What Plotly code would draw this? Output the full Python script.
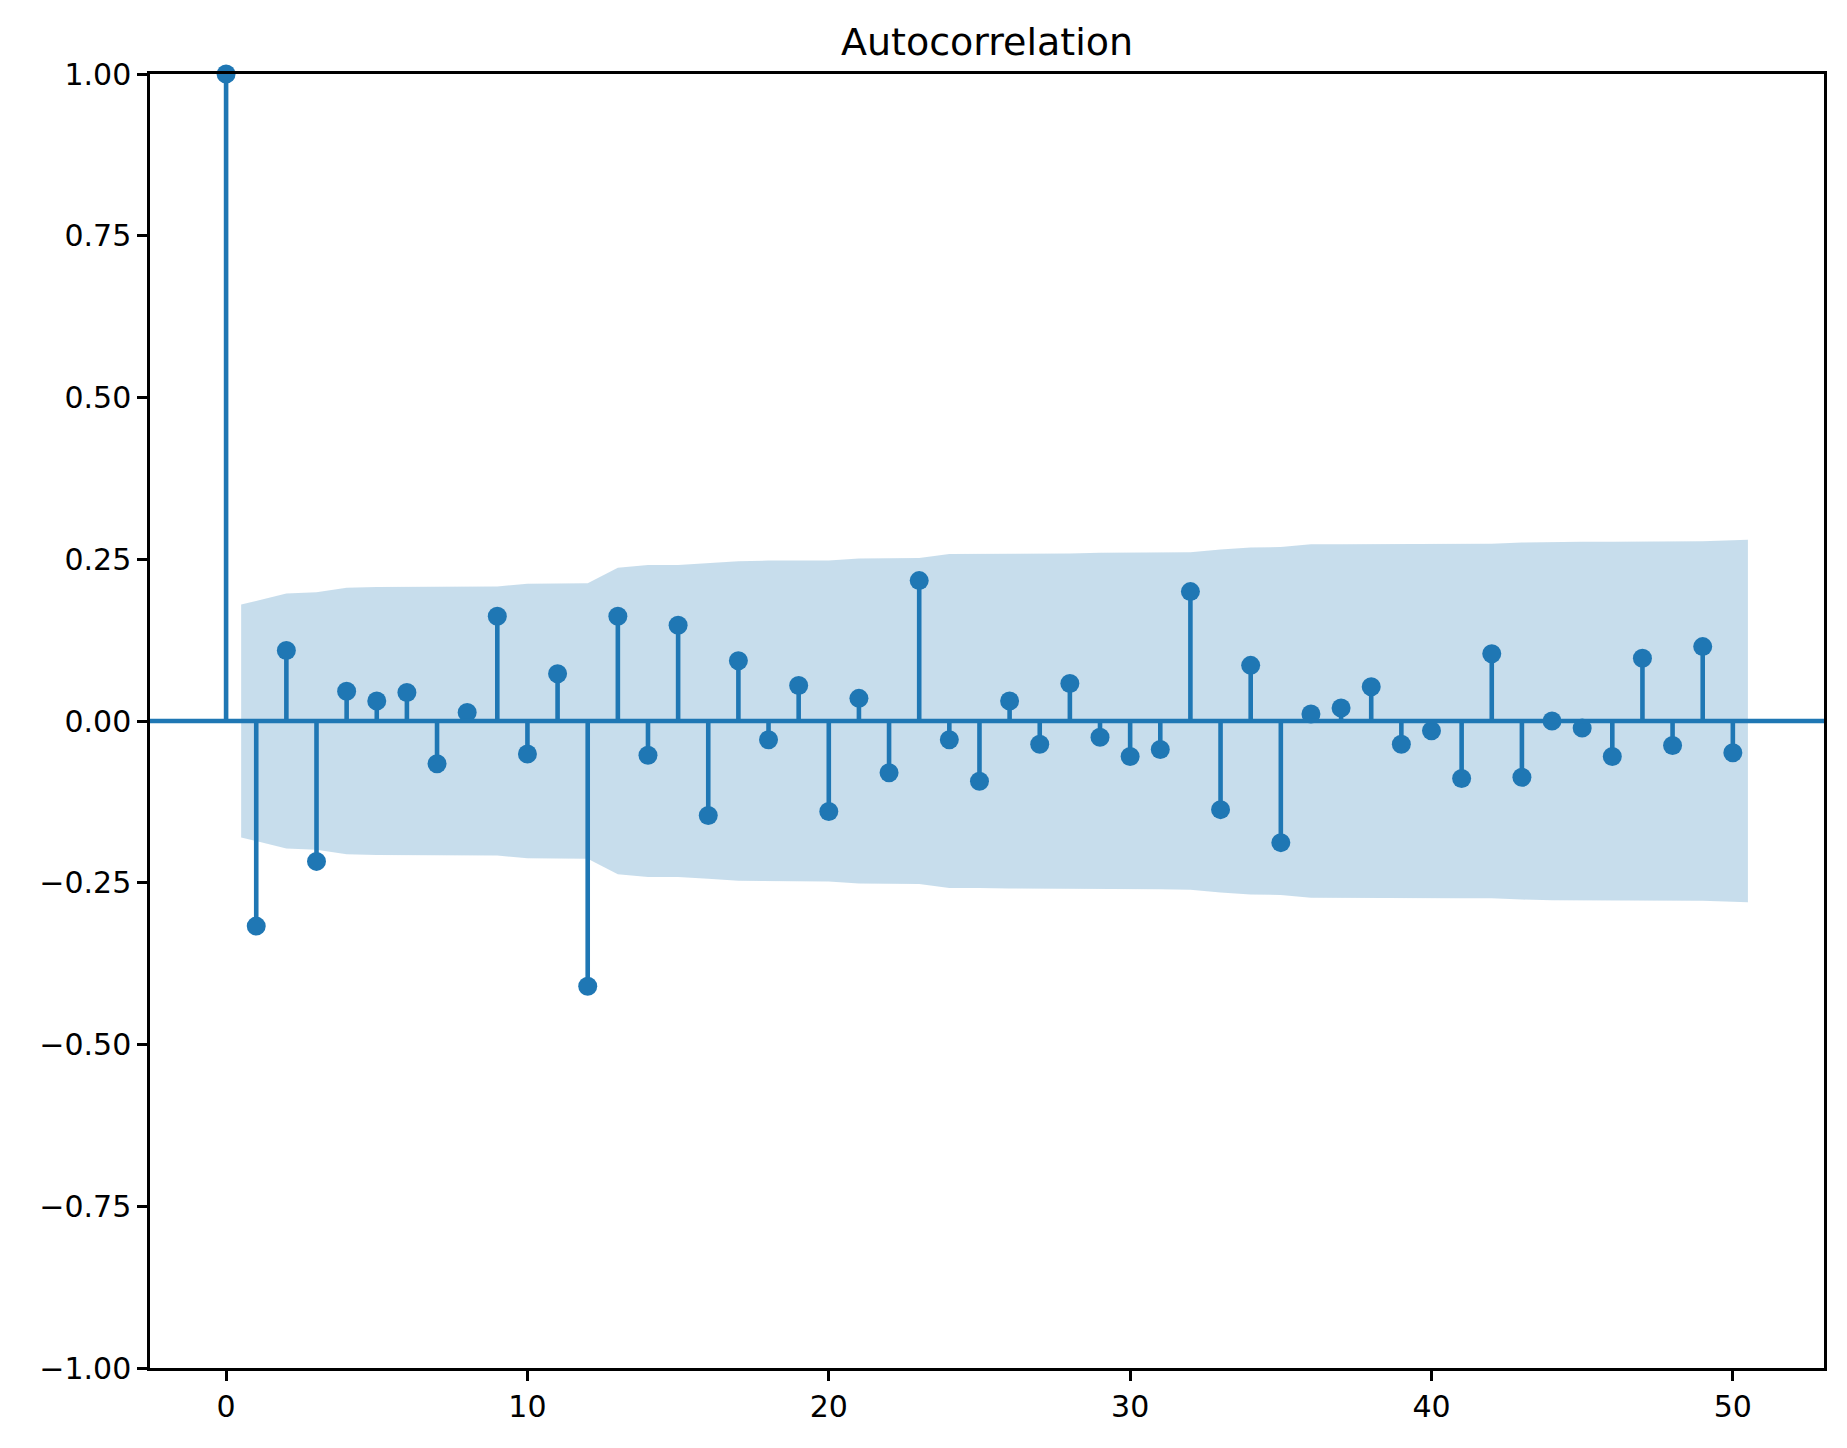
import plotly.graph_objects as go

# Data
lags = list(range(0, 51))
acf_values = [
    1.000, -0.317, 0.109, -0.217, 0.046, 0.031, 0.044, -0.066, 0.013, 0.162,
    -0.051, 0.073, -0.410, 0.162, -0.053, 0.148, -0.146, 0.093, -0.029, 0.055,
    -0.140, 0.035, -0.080, 0.217, -0.029, -0.093, 0.031, -0.036, 0.058, -0.025,
    -0.055, -0.044, 0.200, -0.137, 0.086, -0.188, 0.011, 0.020, 0.053, -0.036,
    -0.015, -0.089, 0.104, -0.087, 0.000, -0.011, -0.055, 0.097, -0.038, 0.115,
    -0.049,
]
# confidence band half-width for lags 1..50 (band x positions: 0.5, 2..49, 50.5)
band_x = [0.5] + list(range(2, 50)) + [50.5]
band_half = [
    0.180, 0.197, 0.199, 0.206, 0.207, 0.207, 0.207, 0.208, 0.208, 0.212,
    0.212, 0.213, 0.237, 0.241, 0.241, 0.244, 0.247, 0.248, 0.248, 0.248,
    0.251, 0.251, 0.252, 0.258, 0.258, 0.259, 0.259, 0.259, 0.260, 0.260,
    0.260, 0.261, 0.265, 0.268, 0.269, 0.273, 0.273, 0.273, 0.273, 0.274,
    0.274, 0.274, 0.276, 0.277, 0.277, 0.277, 0.277, 0.278, 0.278, 0.280,
]
title_text = "Autocorrelation"
x_ticks = [0, 10, 20, 30, 40, 50]
y_ticks = [-1.0, -0.75, -0.5, -0.25, 0.0, 0.25, 0.5, 0.75, 1.0]

BLUE = "#1f77b4"
FONT = "DejaVu Sans"

W, H = 1839, 1440

fig = go.Figure()

# Confidence band
fig.add_trace(go.Scatter(
    x=band_x + band_x[::-1],
    y=band_half + [-v for v in band_half[::-1]],
    fill="toself",
    fillcolor="rgba(31,119,180,0.25)",
    line=dict(width=0),
    mode="lines",
    hoverinfo="skip",
    showlegend=False,
))

# Stems
sx, sy = [], []
for k, v in zip(lags, acf_values):
    sx += [k, k, None]
    sy += [0, v, None]
fig.add_trace(go.Scatter(
    x=sx, y=sy, mode="lines",
    line=dict(color=BLUE, width=4.6),
    showlegend=False, hoverinfo="skip",
))

# Markers
fig.add_trace(go.Scatter(
    x=lags, y=acf_values, mode="markers",
    marker=dict(color=BLUE, size=19, line=dict(width=0)),
    showlegend=False, cliponaxis=False,
))

# Zero line spanning the axes
fig.add_shape(type="line", xref="paper", yref="y", x0=0, x1=1, y0=0, y1=0,
              line=dict(color=BLUE, width=4.6), layer="above")

axis_common = dict(
    showline=True, linecolor="black", linewidth=2.5, mirror=True,
    ticks="outside", ticklen=10, tickwidth=2.5, tickcolor="black",
    showgrid=False, zeroline=False,
    tickfont=dict(family=FONT, size=30, color="black"),
)

fig.update_layout(
    width=W, height=H,
    margin=dict(l=142, r=23, t=66, b=80),
    paper_bgcolor="white", plot_bgcolor="white",
    title=dict(text=title_text, x=0.5, xref="paper", xanchor="center",
               y=1 - 34 / H, yanchor="middle", yref="container",
               font=dict(family=FONT, size=38, color="black")),
    xaxis=dict(range=[-2.525, 53.025], tickvals=x_ticks, **axis_common),
    yaxis=dict(range=[-1, 1], tickvals=y_ticks, tickformat=".2f", **axis_common),
    showlegend=False,
)

fig.write_html("out.html")
